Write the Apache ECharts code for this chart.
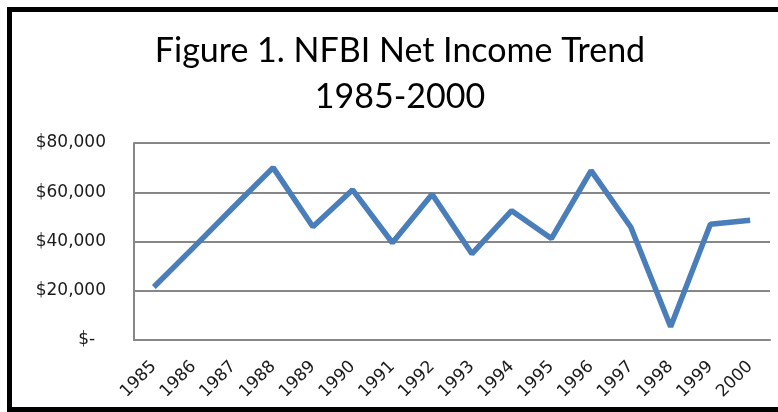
<!DOCTYPE html>
<html>
<head>
<meta charset="utf-8">
<script src="https://cdn.jsdelivr.net/npm/echarts@6/dist/echarts.min.js"></script>
<style>
html,body{margin:0;padding:0;background:#fff;}
#chart{width:778px;height:412px;}
</style>
</head>
<body>
<div id="chart"></div>
<script>
const titleLines = ['Figure 1. NFBI Net Income Trend', '1985-2000'];
const years = ['1985','1986','1987','1988','1989','1990','1991','1992','1993','1994','1995','1996','1997','1998','1999','2000'];
const netIncome = [21500, 37600, 53900, 70000, 46000, 61000, 39500, 59200, 35000, 52500, 41200, 68800, 45800, 5400, 47000, 48600];
const yTicks = [0, 20000, 40000, 60000, 80000];

const chart = echarts.init(document.getElementById('chart'), null, {renderer: 'canvas'});
const gray = '#878787';
const labelFont = 'DejaVu Sans';

chart.setOption({
  animation: false,
  backgroundColor: '#fff',
  title: {
    text: titleLines.join('\n'),
    left: 400,
    top: 28,
    textAlign: 'center',
    padding: 0,
    textStyle: {
      fontFamily: 'Lato',
      fontWeight: 'normal',
      fontSize: 34,
      lineHeight: 46,
      color: '#000'
    }
  },
  grid: {left: 134, right: 8, top: 143, bottom: 72, containLabel: false},
  xAxis: {
    type: 'category',
    data: years,
    boundaryGap: true,
    axisLine: {show: true, lineStyle: {color: gray, width: 2}},
    axisTick: {show: false},
    axisLabel: {
      interval: 0,
      rotate: 45,
      margin: 24,
      fontFamily: labelFont,
      fontSize: 17,
      color: '#1a1a1a'
    },
    splitLine: {show: false}
  },
  yAxis: {
    type: 'value',
    min: yTicks[0],
    max: yTicks[yTicks.length - 1],
    interval: yTicks[1] - yTicks[0],
    axisLine: {show: true, lineStyle: {color: gray, width: 2}},
    axisTick: {show: false},
    axisLabel: {
      margin: 28,
      fontFamily: labelFont,
      fontSize: 17,
      color: '#1a1a1a',
      formatter: function (v) {
        if (v === 0) return '$-  ';
        return '$' + v.toLocaleString('en-US');
      }
    },
    splitLine: {show: true, lineStyle: {color: gray, width: 2}}
  },
  series: [{
    type: 'line',
    data: netIncome,
    showSymbol: false,
    symbol: 'none',
    lineStyle: {color: '#4A7EBB', width: 5.5},
    itemStyle: {color: '#4A7EBB'}
  }],
  graphic: [
    {type: 'rect', shape: {x: 7, y: 7, width: 5, height: 405}, style: {fill: '#000'}},
    {type: 'rect', shape: {x: 7, y: 7, width: 771, height: 5}, style: {fill: '#000'}},
    {type: 'rect', shape: {x: 7, y: 407, width: 771, height: 5}, style: {fill: '#000'}}
  ]
});
</script>
</body>
</html>
